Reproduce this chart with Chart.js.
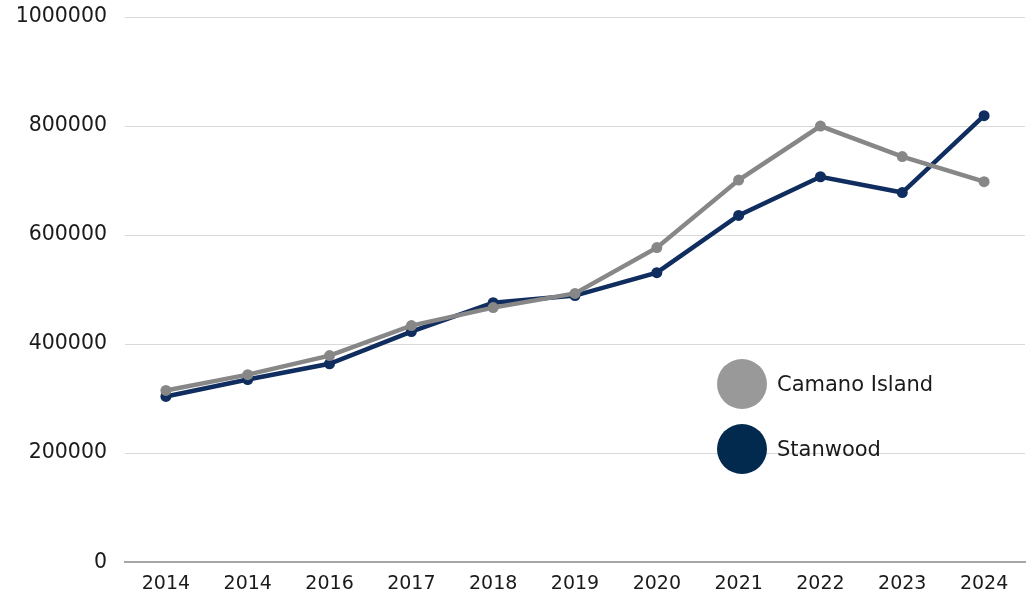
<!DOCTYPE html>
<html>
<head>
<meta charset="utf-8">
<script src="https://cdn.jsdelivr.net/npm/chart.js@4"></script>
<style>
  html, body { margin: 0; padding: 0; background: #fff; }
  #wrap { position: relative; width: 1032px; height: 597px; }
  #legend { position: absolute; left: 717px; top: 359px; font-family: "DejaVu Sans", sans-serif; font-size: 21px; color: #1a1a1a; }
  .item { display: flex; align-items: center; height: 50px; margin-bottom: 15px; }
  .dot { width: 50px; height: 50px; border-radius: 50%; margin-right: 10px; }
</style>
</head>
<body>
<div id="wrap">
  <canvas id="chart" width="1032" height="597"></canvas>
  <div id="legend"></div>
</div>
<script>
// Median price by year
const years    = ['2014', '2014', '2016', '2017', '2018', '2019', '2020', '2021', '2022', '2023', '2024'];
const camano   = [315000, 344000, 379000, 434000, 467000, 493000, 577000, 701000, 800000, 744000, 698000];
const stanwood = [304000, 335000, 364000, 423000, 476000, 489000, 531000, 636000, 707000, 678000, 819000];
const yTicks   = [0, 200000, 400000, 600000, 800000, 1000000];

const seriesNames  = ['Camano Island', 'Stanwood'];
const lineColors   = ['#878787', '#0f2d5e'];
const legendColors = ['#999999', '#022a4f'];

const xFont = { family: '"DejaVu Sans", sans-serif', size: 19 };
const yFont = { family: '"DejaVu Sans", sans-serif', size: 20.5 };

new Chart(document.getElementById('chart'), {
    type: 'line',
    data: {
        labels: years,
        datasets: [
            {
                label: seriesNames[0],
                data: camano,
                borderColor: lineColors[0],
                backgroundColor: lineColors[0],
                borderWidth: 4.5,
                pointRadius: 5.5,
                pointBorderWidth: 0,
                tension: 0,
            },
            {
                label: seriesNames[1],
                data: stanwood,
                borderColor: lineColors[1],
                backgroundColor: lineColors[1],
                borderWidth: 4.5,
                pointRadius: 5.5,
                pointBorderWidth: 0,
                tension: 0,
            },
        ],
    },
    options: {
        responsive: false,
        animation: false,
        layout: { padding: { top: 17, right: 7, left: 0, bottom: 0 } },
        plugins: {
            legend:  { display: false },
            tooltip: { enabled: false },
        },
        scales: {
            x: {
                offset: true,
                grid:   { display: false },
                border: { display: true, color: '#a6a6a6', width: 2 },
                ticks:  { color: '#1a1a1a', font: xFont, padding: 2, maxRotation: 0, autoSkip: false },
            },
            y: {
                min: 0,
                max: 1000000,
                afterBuildTicks: axis => { axis.ticks = yTicks.map(v => ({ value: v })); },
                afterFit: axis => { axis.width = 125; axis.paddingTop = 0; },
                grid:   { color: '#d9d9d9', lineWidth: 1, drawTicks: false },
                border: { display: false },
                ticks:  { color: '#1a1a1a', font: yFont, padding: 18, callback: v => String(v) },
            },
        },
    },
});

// legend, drawn as html in the lower right of the plot
const legend = document.getElementById('legend');
seriesNames.forEach((name, i) => {
    const item = document.createElement('div');
    item.className = 'item';
    item.innerHTML = `<div class="dot" style="background:${legendColors[i]}"></div><span>${name}</span>`;
    legend.appendChild(item);
});
</script>
</body>
</html>
